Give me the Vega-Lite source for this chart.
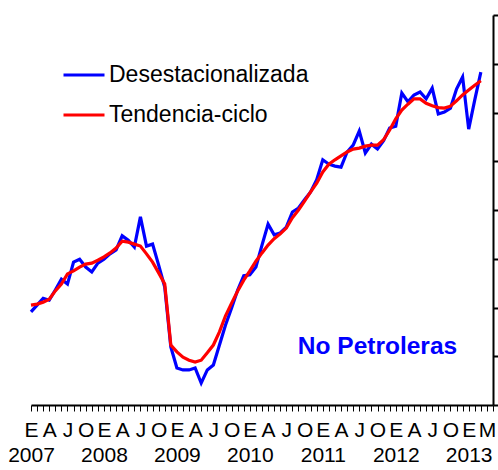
{
  "$schema": "https://vega.github.io/schema/vega-lite/v6.json",
  "width": 462,
  "height": 390,
  "autosize": {"type": "none"},
  "padding": {"left": 31, "top": 15, "right": 5, "bottom": 65},
  "config": {
    "view": {"stroke": null},
    "font": "Liberation Sans",
    "axis": {"grid": false, "domainColor": "#000", "tickColor": "#000", "labelColor": "#000"}
  },
  "resolve": {"scale": {"x": "independent"}, "axis": {"x": "independent"}},
  "layer": [
    {
      "data": {"values": [
        {"m":0,"d":79.1,"t":80.5},{"m":1,"d":80.5,"t":80.7},{"m":2,"d":81.9,"t":81.1},{"m":3,"d":81.5,"t":81.7},
        {"m":4,"d":83.6,"t":83.4},{"m":5,"d":85.8,"t":84.8},{"m":6,"d":84.8,"t":86.9},{"m":7,"d":89.3,"t":87.5},
        {"m":8,"d":89.9,"t":88.3},{"m":9,"d":88.3,"t":88.9},{"m":10,"d":87.3,"t":89.1},{"m":11,"d":89.1,"t":89.7},
        {"m":12,"d":89.9,"t":90.4},{"m":13,"d":91.0,"t":91.2},{"m":14,"d":91.8,"t":92.2},{"m":15,"d":94.7,"t":93.6},
        {"m":16,"d":93.8,"t":93.4},{"m":17,"d":92.4,"t":93.0},{"m":18,"d":98.6,"t":92.6},{"m":19,"d":92.6,"t":91.0},
        {"m":20,"d":93.0,"t":89.3},{"m":21,"d":88.7,"t":87.1},{"m":22,"d":84.2,"t":84.8},{"m":23,"d":71.9,"t":72.3},
        {"m":24,"d":67.6,"t":70.9},{"m":25,"d":67.2,"t":69.8},{"m":26,"d":67.2,"t":69.2},{"m":27,"d":67.6,"t":68.8},
        {"m":28,"d":64.5,"t":69.2},{"m":29,"d":67.2,"t":70.7},{"m":30,"d":68.2,"t":72.3},{"m":31,"d":72.3,"t":75.0},
        {"m":32,"d":76.4,"t":78.3},{"m":33,"d":79.9,"t":80.9},{"m":34,"d":83.6,"t":83.4},{"m":35,"d":86.5,"t":85.6},
        {"m":36,"d":86.7,"t":87.5},{"m":37,"d":88.3,"t":89.5},{"m":38,"d":92.8,"t":91.2},{"m":39,"d":97.1,"t":92.8},
        {"m":40,"d":94.9,"t":94.1},{"m":41,"d":95.3,"t":95.1},{"m":42,"d":96.5,"t":96.3},{"m":43,"d":99.6,"t":98.4},
        {"m":44,"d":100.4,"t":100.0},{"m":45,"d":102.1,"t":101.8},{"m":46,"d":103.7,"t":103.7},{"m":47,"d":106.2,"t":105.5},
        {"m":48,"d":110.3,"t":107.8},{"m":49,"d":109.4,"t":109.4},{"m":50,"d":109.0,"t":110.3},{"m":51,"d":108.8,"t":111.1},
        {"m":52,"d":111.9,"t":111.9},{"m":53,"d":113.3,"t":112.5},{"m":54,"d":116.2,"t":112.7},{"m":55,"d":111.7,"t":113.1},
        {"m":56,"d":113.5,"t":113.3},{"m":57,"d":112.5,"t":113.3},{"m":58,"d":114.2,"t":114.4},{"m":59,"d":116.8,"t":116.4},
        {"m":60,"d":117.2,"t":118.7},{"m":61,"d":124.0,"t":120.5},{"m":62,"d":122.2,"t":121.7},{"m":63,"d":123.6,"t":122.8},
        {"m":64,"d":124.2,"t":122.8},{"m":65,"d":122.8,"t":121.9},{"m":66,"d":125.0,"t":121.4},{"m":67,"d":119.7,"t":121.0},
        {"m":68,"d":120.1,"t":120.9},{"m":69,"d":120.9,"t":121.3},{"m":70,"d":124.8,"t":122.4},{"m":71,"d":127.3,"t":123.6},
        {"m":72,"d":116.6,"t":124.6},{"m":73,"d":122.6,"t":125.6},{"m":74,"d":128.3,"t":126.5}
      ]},
      "transform": [{"fold": ["d", "t"], "as": ["serie", "v"]}],
      "mark": {"type": "line", "strokeWidth": 3.2},
      "encoding": {
        "x": {
          "field": "m", "type": "quantitative",
          "scale": {"domain": [0, 76], "nice": false, "zero": false},
          "axis": {
            "orient": "bottom",
            "title": null,
            "tickCount": 76,
            "labels": false,
            "tickSize": 6,
            "tickWidth": 1,
            "domainWidth": 2
          }
        },
        "y": {
          "field": "v", "type": "quantitative",
          "scale": {"domain": [60, 140], "nice": false, "zero": false},
          "axis": {
            "orient": "right",
            "title": null,
            "labels": false,
            "tickSize": 5,
            "tickWidth": 2,
            "domainWidth": 2
          }
        },
        "color": {
          "field": "serie", "type": "nominal",
          "scale": {"domain": ["d", "t"], "range": ["#0000FF", "#FF0000"]},
          "legend": {
            "title": null,
            "orient": "none",
            "legendX": 31,
            "legendY": 38,
            "padding": 0,
            "symbolType": "stroke",
            "symbolSize": 1681,
            "symbolStrokeWidth": 3,
            "labelFontSize": 23,
            "labelColor": "#000",
            "labelLimit": 400,
            "labelOffset": 3,
            "rowPadding": 6,
            "labelExpr": "datum.value == 'd' ? 'Desestacionalizada' : 'Tendencia-ciclo'"
          }
        }
      }
    },
    {
      "data": {"values": [{"etiqueta": "No Petroleras", "m": 57, "v": 71.9}]},
      "mark": {"type": "text", "fontSize": 24.5, "fontWeight": "bold", "color": "#0000FF", "align": "center", "baseline": "middle"},
      "encoding": {
        "x": {"field": "m", "type": "quantitative", "scale": {"domain": [0, 76], "nice": false, "zero": false}, "axis": null},
        "y": {
          "field": "v", "type": "quantitative",
          "scale": {"domain": [60, 140], "nice": false, "zero": false},
          "axis": {
            "orient": "right",
            "title": null,
            "labels": false,
            "tickSize": 5,
            "tickWidth": 2,
            "domainWidth": 2
          }
        },
        "text": {"field": "etiqueta", "type": "nominal"}
      }
    },
    {
      "data": {"values": [
        {"trimestre": 0}, {"trimestre": 1}, {"trimestre": 2}, {"trimestre": 3}, {"trimestre": 4}, {"trimestre": 5},
        {"trimestre": 6}, {"trimestre": 7}, {"trimestre": 8}, {"trimestre": 9}, {"trimestre": 10}, {"trimestre": 11},
        {"trimestre": 12}, {"trimestre": 13}, {"trimestre": 14}, {"trimestre": 15}, {"trimestre": 16}, {"trimestre": 17},
        {"trimestre": 18}, {"trimestre": 19}, {"trimestre": 20}, {"trimestre": 21}, {"trimestre": 22}, {"trimestre": 23},
        {"trimestre": 24}, {"trimestre": 25}
      ]},
      "mark": {"type": "point", "opacity": 0},
      "encoding": {
        "x": {
          "field": "trimestre", "type": "quantitative",
          "scale": {"domain": [0, 25.3333], "nice": false, "zero": false},
          "axis": {
            "orient": "bottom",
            "title": null,
            "tickCount": 25,
            "domain": false,
            "ticks": false,
            "tickSize": 0,
            "labelFontSize": 21,
            "labelPadding": 14,
            "labelFlush": false,
            "labelAlign": "center",
            "labelExpr": "datum.value == 25 ? 'M' : datum.value % 4 == 0 ? 'E' : datum.value % 4 == 1 ? 'A' : datum.value % 4 == 2 ? 'J' : 'O'"
          }
        }
      }
    },
    {
      "data": {"values": [
        {"anio": 0}, {"anio": 1}, {"anio": 2}, {"anio": 3}, {"anio": 4}, {"anio": 5}, {"anio": 6}
      ]},
      "mark": {"type": "point", "opacity": 0},
      "encoding": {
        "x": {
          "field": "anio", "type": "quantitative",
          "scale": {"domain": [0, 6.33333], "nice": false, "zero": false},
          "axis": {
            "orient": "bottom",
            "title": null,
            "tickCount": 6,
            "domain": false,
            "ticks": false,
            "tickSize": 0,
            "labelFontSize": 21,
            "labelPadding": 39,
            "labelFlush": false,
            "labelAlign": "center",
            "labelExpr": "'' + (2007 + datum.value)"
          }
        }
      }
    }
  ]
}
